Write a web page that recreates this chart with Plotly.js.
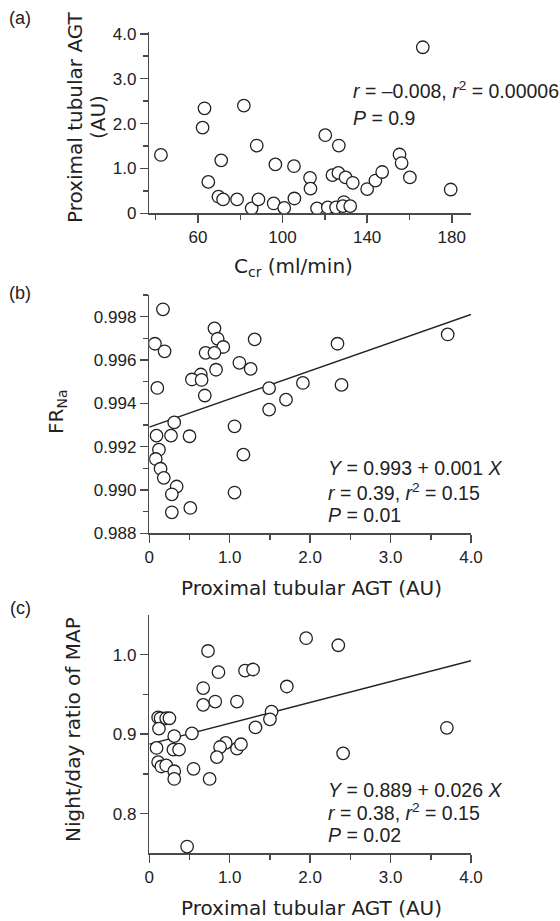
<!DOCTYPE html>
<html><head><meta charset="utf-8">
<script src="https://cdn.plot.ly/plotly-3.0.1.min.js"></script>
<style>html,body{margin:0;padding:0;background:#fff}</style>
</head><body><div id="chart" style="width:560px;height:921px"></div>
<script>
// Panel (a): Ccr vs proximal tubular AGT
const ccrA = [42.5,63.1,62.2,81.7,71.0,64.9,69.7,71.9,78.5,85.4,88.6,87.8,95.8,96.6,100.8,105.4,105.6,113.0,113.2,116.3,120.2,121.4,123.6,125.3,126.4,126.6,129.0,128.5,129.8,132.0,133.2,140.0,143.9,147.1,155.3,156.3,160.2,166.3,179.5];
const agtA = [1.30,2.34,1.91,2.40,1.18,0.70,0.37,0.31,0.31,0.11,0.31,1.51,0.22,1.09,0.12,1.05,0.33,0.79,0.55,0.11,1.74,0.13,0.85,0.13,0.90,1.51,0.25,0.16,0.80,0.16,0.68,0.54,0.73,0.92,1.31,1.12,0.80,3.70,0.53];
// Panel (b): AGT vs FRNa
const agtB = [0.17,0.07,0.19,0.10,0.81,0.85,0.92,0.70,0.81,1.31,1.12,0.83,1.26,0.64,0.53,0.65,0.69,2.34,3.71,1.91,2.39,1.49,1.70,1.49,0.31,1.06,0.09,0.27,0.50,0.12,0.08,1.17,0.14,0.18,0.34,0.28,1.06,0.51,0.28];
const frnaB = [0.99834,0.99675,0.9964,0.99471,0.99746,0.99698,0.9966,0.99633,0.99633,0.99695,0.99587,0.99555,0.99559,0.99533,0.9951,0.99508,0.99436,0.99675,0.99718,0.99494,0.99485,0.9947,0.99417,0.99371,0.99312,0.99294,0.99251,0.99251,0.99248,0.99186,0.99143,0.99163,0.99098,0.99056,0.99016,0.9898,0.98988,0.98917,0.98897];
const fitBx = [0, 4.0];
const fitBy = [0.9929, 0.9981];
// Panel (c): AGT vs night/day ratio of MAP
const agtC = [0.11,0.14,0.21,0.25,0.12,0.31,0.53,0.09,0.30,0.37,0.11,0.15,0.21,0.31,0.31,0.55,0.75,0.73,0.86,0.67,0.67,0.82,1.09,1.19,1.29,1.71,1.52,1.50,1.32,0.95,0.88,0.84,1.09,1.14,1.95,2.35,2.41,3.70,0.47];
const mapC = [0.921,0.920,0.920,0.920,0.907,0.8975,0.901,0.8826,0.8805,0.8805,0.8648,0.8593,0.8606,0.8533,0.8436,0.8564,0.8436,1.0047,0.978,0.958,0.9369,0.941,0.941,0.980,0.9814,0.960,0.9284,0.9187,0.9085,0.889,0.8838,0.8711,0.8818,0.8873,1.0208,1.0119,0.8758,0.908,0.7585];
const fitCx = [0, 4.0];
const fitCy = [0.8875, 0.9925];
// Tick labels
const ticksA_x = [60, 100, 140, 180];
const ticksA_y = [0, 1, 2, 3, 4];
const ticksA_yText = ['0', '1.0', '2.0', '3.0', '4.0'];
const ticksB_y = [0.988, 0.990, 0.992, 0.994, 0.996, 0.998];
const ticksAGT = [0, 1, 2, 3, 4];
const ticksAGTText = ['0', '1.0', '2.0', '3.0', '4.0'];
const ticksC_y = [0.8, 0.9, 1.0];
const ticksC_yText = ['0.8', '0.9', '1.0'];

const W = 560, H = 921;
const px = v => v / W;
const py = v => 1 - v / H;
const axisCol = '#4a4a4a';
const tickFont = {family: 'Liberation Sans Narrow, Liberation Sans, Arial, sans-serif', size: 17, color: '#222'};
const textFont = {family: 'Liberation Sans, Arial, sans-serif', size: 19.5, color: '#222'};
const titleFont = {family: 'DejaVu Sans, Liberation Sans, sans-serif', size: 20, color: '#222'};

const mk = {symbol: 'circle', size: 12.5, color: 'white', line: {color: '#222', width: 1.3}};

const traces = [
  {x: ccrA, y: agtA, mode: 'markers', type: 'scatter', marker: mk, xaxis: 'x', yaxis: 'y', hoverinfo: 'skip'},
  {x: fitBx, y: fitBy, mode: 'lines', type: 'scatter', line: {color: '#222', width: 1.4}, xaxis: 'x2', yaxis: 'y2'},
  {x: agtB, y: frnaB, mode: 'markers', type: 'scatter', marker: mk, xaxis: 'x2', yaxis: 'y2'},
  {x: fitCx, y: fitCy, mode: 'lines', type: 'scatter', line: {color: '#222', width: 1.4}, xaxis: 'x3', yaxis: 'y3'},
  {x: agtC, y: mapC, mode: 'markers', type: 'scatter', marker: mk, xaxis: 'x3', yaxis: 'y3'}
];

const xdom = [px(149.3), px(471)];
function ax(extra) {
  return Object.assign({
    showline: true, linecolor: axisCol, linewidth: 1.5, showgrid: false, zeroline: false,
    ticks: 'outside', ticklen: 8, tickwidth: 1.5, tickcolor: axisCol, tickfont: tickFont,
    tickmode: 'array', fixedrange: true, layer: 'below traces'
  }, extra);
}

const layout = {
  width: W, height: H, margin: {l: 0, r: 0, t: 0, b: 0},
  paper_bgcolor: 'white', plot_bgcolor: 'rgba(0,0,0,0)', showlegend: false,
  xaxis: ax({domain: xdom, anchor: 'y', range: [37.0, 189.1], tickvals: ticksA_x, ticktext: ticksA_x.map(String),
    minor: {tickvals: [40, 80, 120, 160], ticks: 'outside', ticklen: 5, tickwidth: 1.5, tickcolor: axisCol}}),
  yaxis: ax({domain: [py(213.3), py(32)], anchor: 'x', range: [0, 4.04], tickvals: ticksA_y, ticktext: ticksA_yText,
    minor: {tickvals: [0.5, 1.5, 2.5, 3.5], ticks: 'outside', ticklen: 5, tickwidth: 1.5, tickcolor: axisCol}}),
  xaxis2: ax({domain: xdom, anchor: 'y2', range: [0, 4.0], tickvals: ticksAGT, ticktext: ticksAGTText,
    minor: {tickvals: [0.5, 1.5, 2.5, 3.5], ticks: 'outside', ticklen: 5, tickwidth: 1.5, tickcolor: axisCol}}),
  yaxis2: ax({domain: [py(533.3), py(295)], anchor: 'x2', range: [0.988, 0.999], tickvals: ticksB_y, ticktext: ticksB_y.map(v => v.toFixed(3)),
    minor: {tickvals: [0.989, 0.991, 0.993, 0.995, 0.997, 0.999], ticks: 'outside', ticklen: 5, tickwidth: 1.5, tickcolor: axisCol}}),
  xaxis3: ax({domain: xdom, anchor: 'y3', range: [0, 4.0], tickvals: ticksAGT, ticktext: ticksAGTText,
    minor: {tickvals: [0.5, 1.5, 2.5, 3.5], ticks: 'outside', ticklen: 5, tickwidth: 1.5, tickcolor: axisCol}}),
  yaxis3: ax({domain: [py(853.3), py(615)], anchor: 'x3', range: [0.75, 1.05], tickvals: ticksC_y, ticktext: ticksC_yText,
    minor: {tickvals: [0.85, 0.95], ticks: 'outside', ticklen: 5, tickwidth: 1.5, tickcolor: axisCol}}),
  annotations: []
};

function ann(text, x, y, opts) {
  layout.annotations.push(Object.assign({text: text, x: px(x), y: py(y), xref: 'paper', yref: 'paper',
    showarrow: false, xanchor: 'center', yanchor: 'middle', font: textFont}, opts || {}));
}
// panel labels
ann('(a)', 20, 18, {font: Object.assign({}, textFont, {size: 18})});
ann('(b)', 20, 293, {font: Object.assign({}, textFont, {size: 18})});
ann('(c)', 20, 608, {font: Object.assign({}, textFont, {size: 18})});
// y titles
ann('Proximal tubular AGT', 75, 117, {textangle: -90, font: titleFont});
ann('(AU)', 98, 117, {textangle: -90, font: titleFont});
ann('FR<sub>Na</sub>', 57, 412, {textangle: -90, font: titleFont});
ann('Night/day ratio of MAP', 73, 730, {textangle: -90, font: titleFont});
// x titles
ann('C<sub>cr</sub> (ml/min)', 293, 267, {font: titleFont});
ann('Proximal tubular AGT (AU)', 311, 588, {font: titleFont});
ann('Proximal tubular AGT (AU)', 311, 908, {font: titleFont});
// stats
ann('<i>r</i> = –0.008, <i>r</i><sup>2</sup> = 0.00006', 351, 90, {xanchor: 'left'});
ann('<i>P</i> = 0.9', 351, 118, {xanchor: 'left'});
ann('<i>Y</i> = 0.993 + 0.001 <i>X</i>', 326, 468, {xanchor: 'left'});
ann('<i>r</i> = 0.39, <i>r</i><sup>2</sup> = 0.15', 326, 492, {xanchor: 'left'});
ann('<i>P</i> = 0.01', 326, 515, {xanchor: 'left'});
ann('<i>Y</i> = 0.889 + 0.026 <i>X</i>', 326, 790, {xanchor: 'left'});
ann('<i>r</i> = 0.38, <i>r</i><sup>2</sup> = 0.15', 326, 812, {xanchor: 'left'});
ann('<i>P</i> = 0.02', 326, 835, {xanchor: 'left'});

Plotly.newPlot('chart', traces, layout, {staticPlot: true, displayModeBar: false});
</script>
</body></html>
